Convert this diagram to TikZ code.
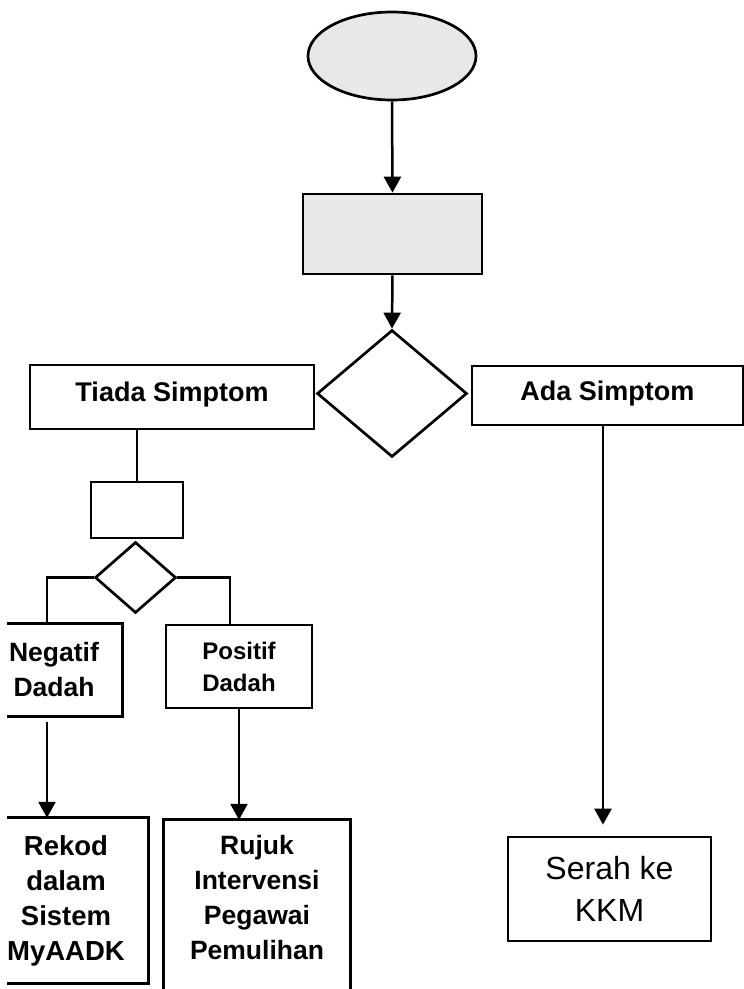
\documentclass[tikz,border=0pt]{standalone}
\usepackage{fontspec}
\setmainfont{Liberation Sans}
\usetikzlibrary{shapes.geometric,arrows.meta}
\tikzset{
  box/.style={draw, line width=2.7pt, inner sep=0pt, align=center},
  plain/.style={inner sep=0pt, align=center},
  shade/.style={fill=black!9},
  arr/.style={line width=2.5pt, -{Triangle[width=17pt,length=16pt]}},
  ln/.style={line width=2.1pt},
  edge3/.style={line width=2.7pt},
  boldtxt/.style={font=\fontsize{27}{35}\selectfont\bfseries},
}
\begin{document}
\begin{tikzpicture}[x=1pt,y=-1pt]
\useasboundingbox (0,0) rectangle (744,989);
\coordinate (bot) at (0,989);

% top shapes
\node[box, shade, ellipse, minimum width=168, minimum height=88] (start) at (392,56) {};
\node[box, shade, minimum width=179, minimum height=80] (proc) at (392.5,234) {};
\node[box, diamond, minimum width=150, minimum height=127] (dec) at (392,393.5) {};

% branch boxes
\node[box, boldtxt, minimum width=284, minimum height=64, text height=19pt, text depth=11pt] (tiada) at (172,397) {Tiada Simptom};
\node[box, boldtxt, minimum width=271, minimum height=59, text height=19pt, text depth=10pt] (ada) at (607.5,395.5) {Ada Simptom};

% left sub-flow
\node[box, minimum width=92, minimum height=56] (small) at (137,510) {};
\node[box, diamond, minimum width=81, minimum height=71] (sd) at (135.5,577.5) {};

\node[plain, font=\fontsize{26.5}{35}\selectfont\bfseries, minimum width=136, minimum height=92] (neg) at (54,670) {Negatif\\Dadah};
\draw[edge3] ([xshift=21pt]neg.north west) -- (neg.north east) -- (neg.south east) -- ([xshift=21pt]neg.south west);

\node[box, font=\fontsize{24}{32}\selectfont\bfseries, minimum width=146, minimum height=83] (pos) at (239,666.5) {Positif\\Dadah};

\node[plain, font=\fontsize{27.5}{35}\selectfont\bfseries, minimum width=164, minimum height=165] (rek) at (66,900.5) {Rekod\\dalam\\Sistem\\MyAADK};
\draw[edge3] ([xshift=23pt]rek.north west) -- (rek.north east) -- (rek.south east) -- ([xshift=23pt]rek.south west);

\node[plain, font=\fontsize{26.5}{35}\selectfont\bfseries, minimum width=186, minimum height=156] (ruj) at (257,898) {Rujuk\\Intervensi\\Pegawai\\Pemulihan};
\draw[edge3] (ruj.north west |- bot) -- (ruj.north west) -- (ruj.north east) -- (ruj.north east |- bot);

\node[box, font=\fontsize{32}{42}\selectfont, minimum width=203, minimum height=104] (serah) at (609.5,889) {Serah ke\\KKM};

% connectors
\draw[arr] (start.south) -- (proc.north);
\draw[arr] (proc.south) -- (dec.north);
\draw[ln] (small.north |- tiada.south) -- (small.north);
\draw[ln] (sd.west) -| ([xshift=-7pt]neg.north);
\draw[ln] (sd.east) -| ([xshift=-9pt]pos.north);
\draw[arr] ([xshift=-7pt,yshift=-6pt]neg.south) -- ([xshift=-7pt]neg.south |- rek.north);
\draw[arr] (pos.south) -- (pos.south |- ruj.north);
\draw[arr] ([xshift=-4.5pt]ada.south) -- ([xshift=-4.5pt,yshift=11pt]ada.south |- serah.north);
\end{tikzpicture}
\end{document}
